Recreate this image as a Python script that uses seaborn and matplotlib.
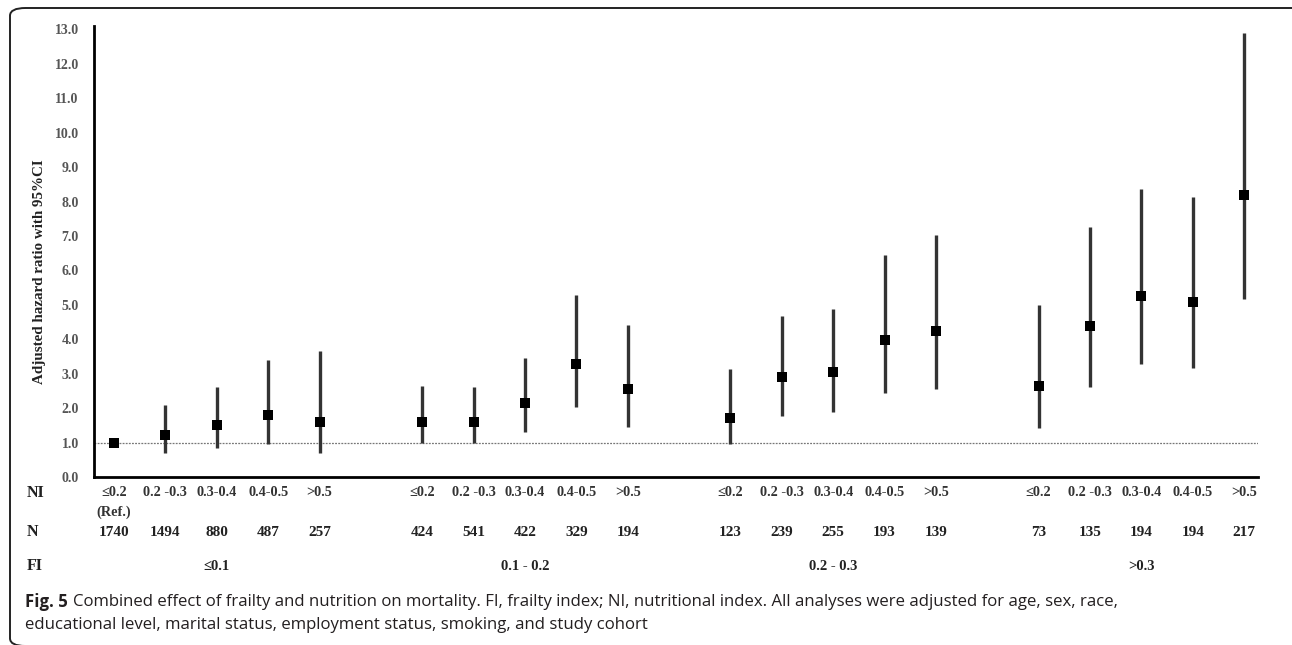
import numpy as np
import pandas as pd
import seaborn as sns
import matplotlib.pyplot as plt
from matplotlib.patches import FancyBboxPatch
from matplotlib.transforms import blended_transform_factory

# ---- data ----
fi_groups = ["≤0.1", "0.1 - 0.2", "0.2 - 0.3", ">0.3"]
ni_levels = ["≤0.2", "0.2 -0.3", "0.3-0.4", "0.4-0.5", ">0.5"]

hr = [1.00, 1.23, 1.50, 1.81, 1.61,
      1.61, 1.61, 2.15, 3.28, 2.56,
      1.72, 2.90, 3.05, 3.99, 4.24,
      2.64, 4.40, 5.27, 5.09, 8.18]
ci_low = [1.00, 0.71, 0.84, 0.96, 0.69,
          0.98, 0.99, 1.32, 2.02, 1.46,
          0.95, 1.77, 1.89, 2.43, 2.55,
          1.41, 2.62, 3.28, 3.17, 5.16]
ci_high = [1.00, 2.09, 2.61, 3.40, 3.67,
           2.64, 2.60, 3.45, 5.29, 4.42,
           3.14, 4.68, 4.89, 6.44, 7.04,
           4.99, 7.27, 8.37, 8.14, 12.90]
n_counts = [1740, 1494, 880, 487, 257,
            424, 541, 422, 329, 194,
            123, 239, 255, 193, 139,
            73, 135, 194, 194, 217]

yticks = np.arange(0, 14, 1.0)

df = pd.DataFrame({
    "fi": np.repeat(fi_groups, len(ni_levels)),
    "ni": ni_levels * len(fi_groups),
    "hr": hr, "lo": ci_low, "hi": ci_high, "n": n_counts,
})
# one empty slot between FI groups
df["g"] = np.repeat(np.arange(len(fi_groups)), len(ni_levels))
df["pos"] = df["g"] * (len(ni_levels) + 1) + np.tile(np.arange(len(ni_levels)), len(fi_groups))

W, H = 1292, 645
fig = plt.figure(figsize=(W / 100, H / 100), dpi=100)
sns.set_style("white")
plt.rcParams["font.family"] = ["Liberation Serif", "DejaVu Serif"]

ax = fig.add_axes([94 / W, 1 - 477 / H, (1258 - 94) / W, (477 - 26) / H])

# reference line at HR = 1
ax.axhline(1.0, color="#777777", lw=0.9, ls=(0, (1.5, 1)), zorder=1)

# confidence intervals
ax.vlines(df["pos"], df["lo"], df["hi"], color="#333333", lw=2.4, zorder=2)
sns.scatterplot(data=df, x="pos", y="hr", marker="s", s=46, color="black",
                edgecolor="black", linewidth=0, ax=ax, zorder=3, legend=False)

ax.set_xlim(-0.39, df["pos"].max() + 0.27)
ax.set_ylim(0, 13.1)
ax.set_yticks(yticks)
ax.set_yticklabels([f"{v:.1f}" for v in yticks], fontsize=10, fontweight="bold", color="#555555")
ax.set_xticks([])
ax.tick_params(axis="y", length=0, pad=11)
ax.set_xlabel("")
ax.set_ylabel("")
for side in ["top", "right"]:
    ax.spines[side].set_visible(False)
ax.spines["left"].set_linewidth(2.0)
ax.spines["bottom"].set_linewidth(2.0)
ax.spines["left"].set_color("black")
ax.spines["bottom"].set_color("black")

fig.text(40 / W, 1 - 272 / H, "Adjusted hazard ratio with 95%CI", rotation=90,
         ha="center", va="center", fontsize=10.8, fontweight="bold", color="#222222")

# table rows under the axis
tr = blended_transform_factory(ax.transData, fig.transFigure)
row_y = {"NI": 1 - 493 / H, "N": 1 - 532 / H, "FI": 1 - 566 / H}
for name, yy in row_y.items():
    fig.text(27 / W, yy, name, ha="left", va="center", fontsize=11.5,
             fontweight="bold", color="#222222")

for _, r in df.iterrows():
    ax.text(r["pos"], row_y["NI"], r["ni"], transform=tr, ha="center", va="center",
            fontsize=10.3, fontweight="bold", color="#333333")
    ax.text(r["pos"], row_y["N"], str(r["n"]), transform=tr, ha="center", va="center",
            fontsize=11, fontweight="bold", color="#222222")
ax.text(df["pos"].iloc[0], 1 - 512 / H, "(Ref.)", transform=tr, ha="center", va="center",
        fontsize=10.3, fontweight="bold", color="#333333")

for gi, name in enumerate(fi_groups):
    mid = df.loc[df["g"] == gi, "pos"].mean()
    ax.text(mid, row_y["FI"], name, transform=tr, ha="center", va="center",
            fontsize=10.5, fontweight="bold", color="#222222")

# caption
cap_font = ["Open Sans", "DejaVu Sans"]
y1 = 1 - 602 / H
y2 = 1 - 625 / H
t0 = fig.text(25 / W, y1, "Fig. 5", ha="left", va="center", fontsize=12.1,
              fontweight="bold", family=cap_font, color="#231f20")
fig.canvas.draw()
bb = t0.get_window_extent()
fig.text((bb.x1 + 5) / W, y1,
         "Combined effect of frailty and nutrition on mortality. FI, frailty index; NI, nutritional index. "
         "All analyses were adjusted for age, sex, race,",
         ha="left", va="center", fontsize=12.1, family=cap_font, color="#231f20")
fig.text(25 / W, y2,
         "educational level, marital status, employment status, smoking, and study cohort",
         ha="left", va="center", fontsize=12.1, family=cap_font, color="#231f20")

# rounded frame around the figure panel
frame = FancyBboxPatch((10 / W, -1 / H), (1310 - 10) / W, (637 + 1) / H,
                       boxstyle="round,pad=0,rounding_size=0.012",
                       transform=fig.transFigure, fill=False, ec="#222222", lw=1.4,
                       clip_on=False)
fig.patches.append(frame)

fig.savefig("out.png", dpi=100)
